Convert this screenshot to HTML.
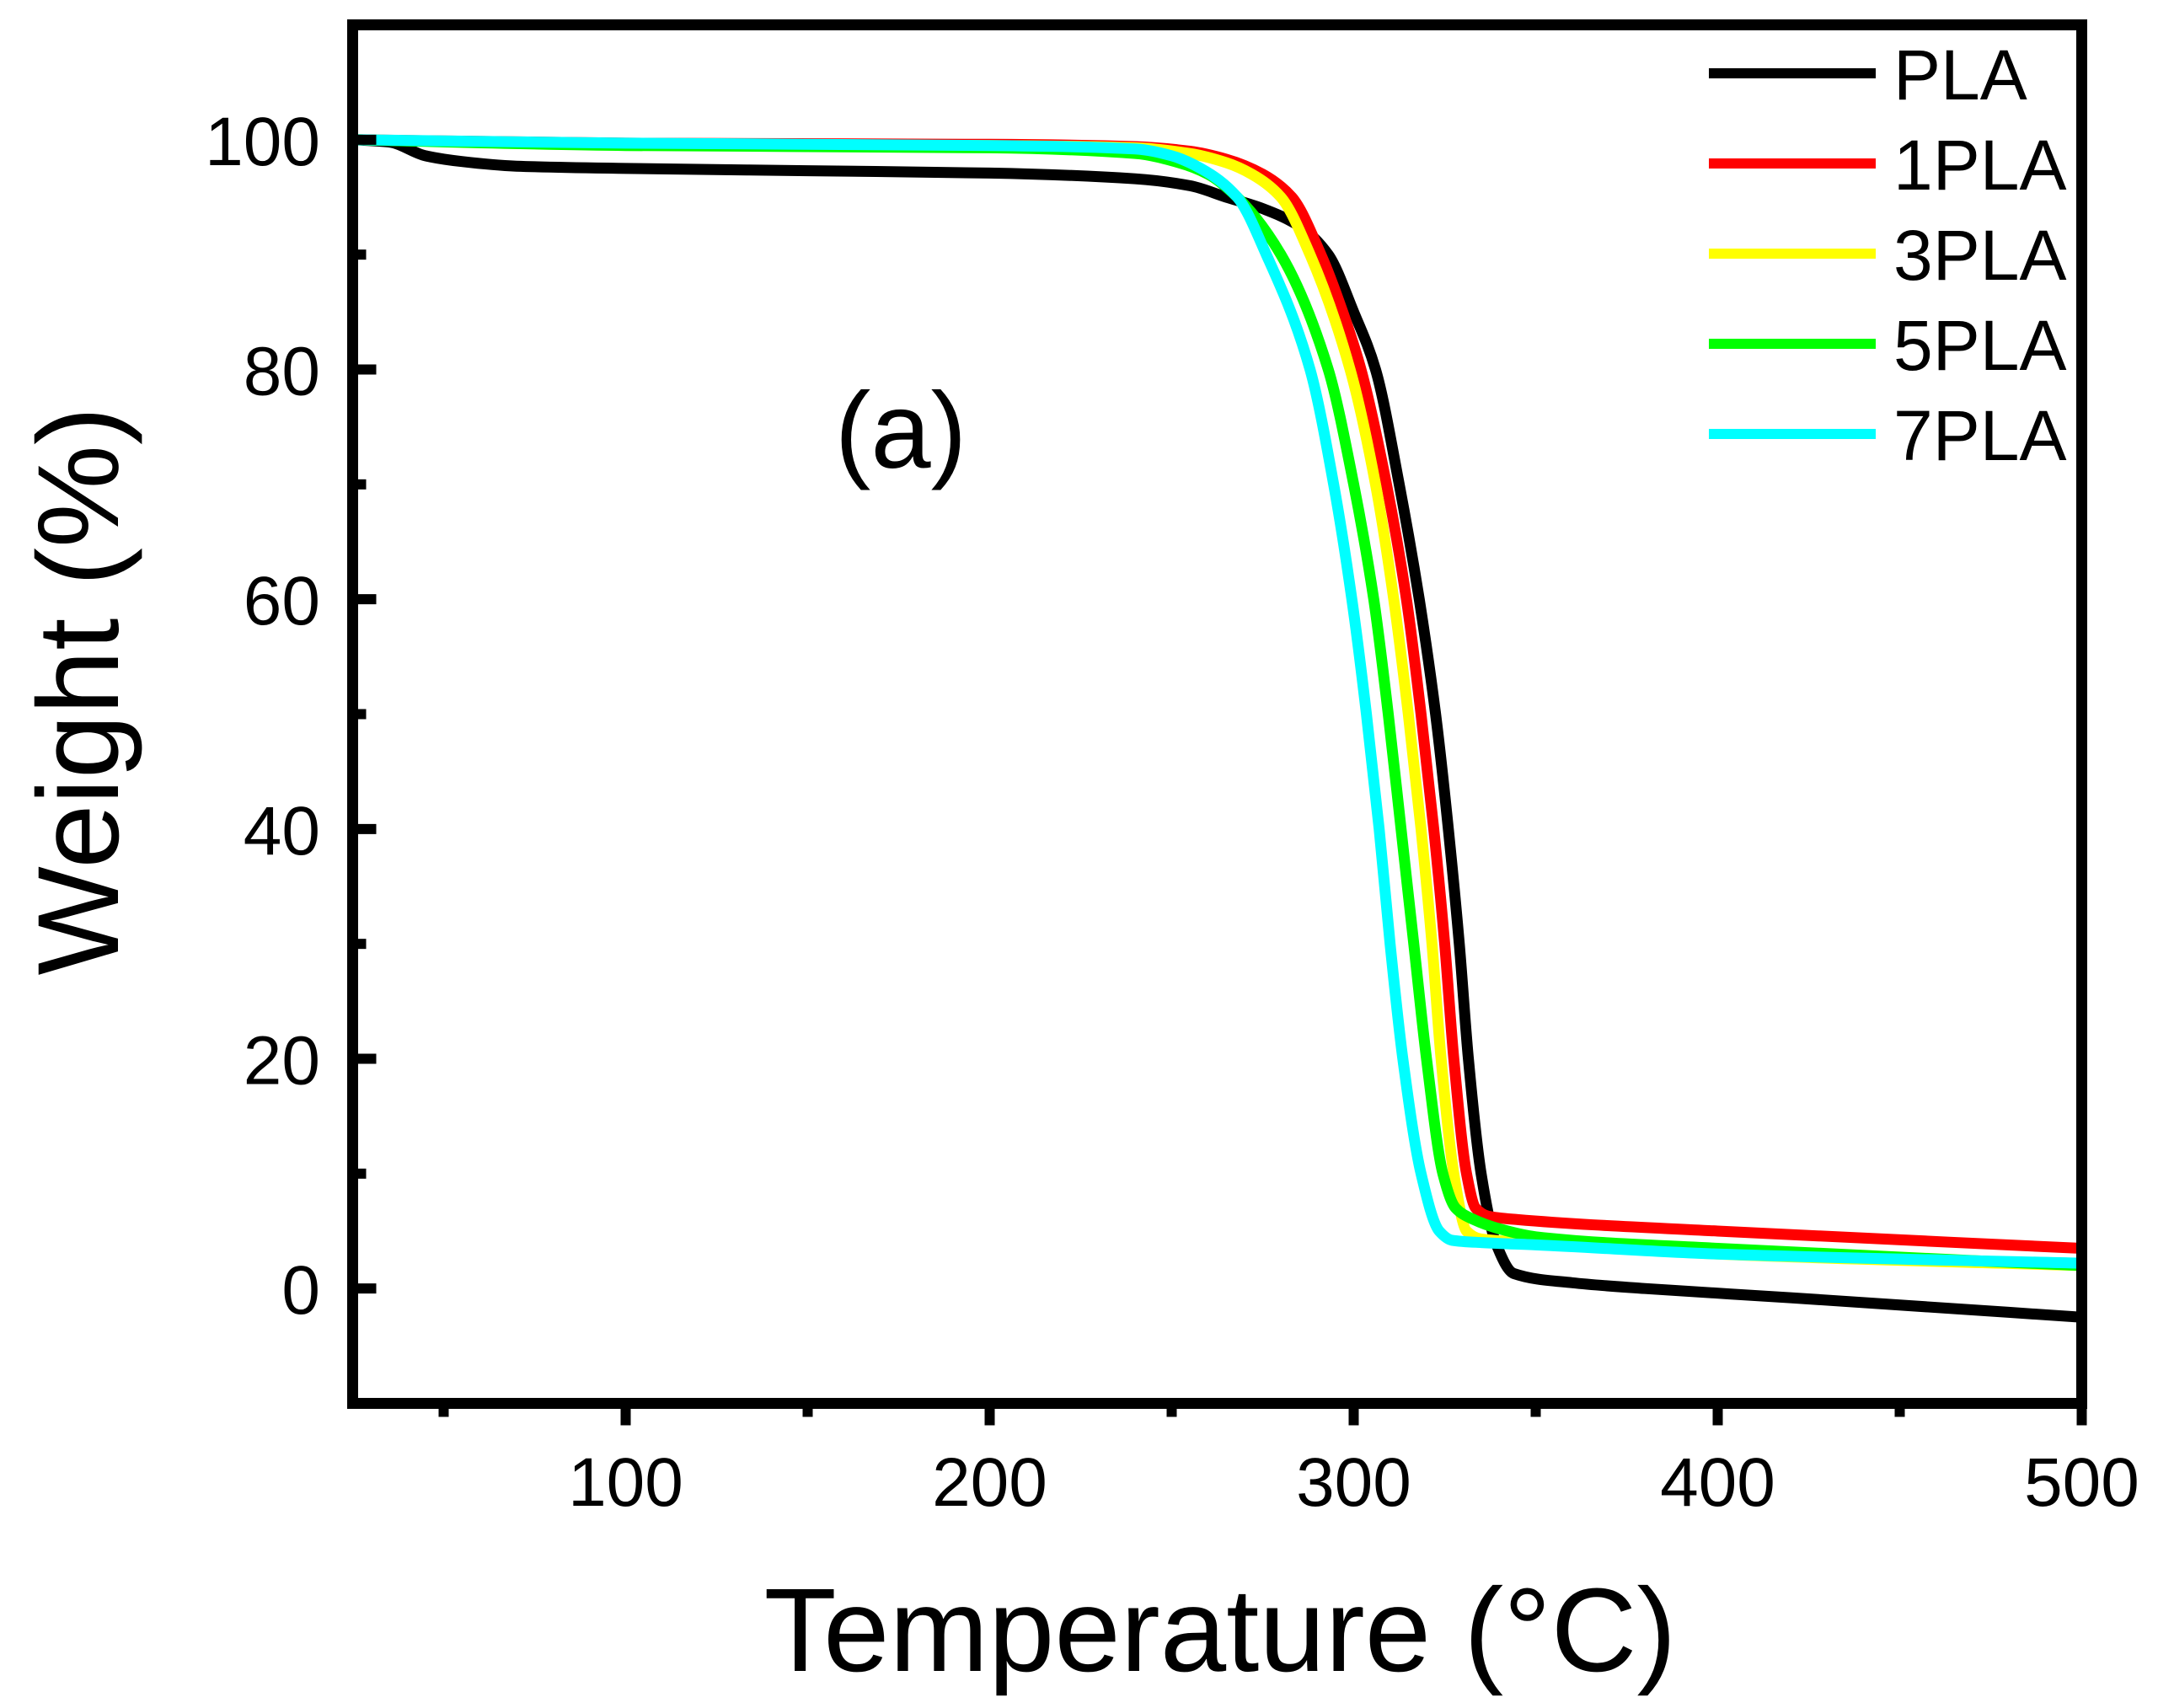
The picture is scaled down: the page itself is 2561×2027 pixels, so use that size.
<!DOCTYPE html>
<html><head><meta charset="utf-8"><style>
html,body{margin:0;padding:0;background:#fff;}
svg{display:block;font-family:"Liberation Sans",Arial,sans-serif;}
</style></head><body>
<svg id="chart" width="2561" height="2027" viewBox="0 0 2561 2027" xmlns="http://www.w3.org/2000/svg">
<g id="series"></g>
<g id="axes"></g>
<text x="1069" y="555" font-size="128" text-anchor="middle">(a)</text>
<text x="1448" y="1983" font-size="141" text-anchor="middle">Temperature (°C)</text>
<text transform="translate(140,820) rotate(-90)" font-size="137" text-anchor="middle">Weight (%)</text>
<g id="legend"></g>
</svg>
<script>
const seriesNames = ["PLA","1PLA","3PLA","5PLA","7PLA"];
const seriesColors = ["#000000","#ff0000","#ffff00","#00ff00","#00ffff"];
const xTicks = [100,200,300,400,500];
const xMinor = [50,150,250,350,450];
const yTicks = [0,20,40,60,80,100];
const yMinor = [-10,10,30,50,70,90,110];
const tPLA = [25,35,45,55,70,100,150,200,240,255,265,275,285,293,300,306,312.5,318,322.5,326,329,331.5,335,339,344,360,380,420,500];
const wPLA = [100,99.8,98.6,98.1,97.7,97.5,97.3,97.1,96.6,96,95,94,92.5,90,85,80,70,60,50,40,30,20,10,4,1.3,0.5,0,-0.8,-2.5];
const t1PLA = [25,100,200,240,255,265,275,283,291,297,302,309,314.5,318.5,322,325,327.5,331,333.5,337,345,400,500];
const w1PLA = [100,99.7,99.6,99.4,99,98.3,97,95,90,85,80,70,60,50,40,30,20,10,7,6.3,6,5,3.5];
const t3PLA = [25,100,200,240,255,265,272,280,288,299,306,311,315,318.5,321.5,324,327.5,331,335,350,400,500];
const w3PLA = [100,99.6,99.5,99.3,98.8,98,97,95,90,80,70,60,50,40,30,20,10,5,4.3,4,3,2];
const t5PLA = [25,100,200,240,252,260,268,280,293,300,305.5,309.5,313,316.5,320,324.5,328,333,340,350,400,500];
const w5PLA = [100,99.5,99.3,98.8,98,97,95,90,80,70,60,50,40,30,20,10,7,6,5.2,4.5,3.5,2];
const t7PLA = [25,100,200,240,250,258,268,276,288,294.5,299.5,303.5,307,310,313.5,318.5,323.5,327,335,350,400,500];
const w7PLA = [100,99.7,99.5,99.2,98.6,97.5,95,90,80,70,60,50,40,30,20,10,5,4.2,4,3.8,3,2.2];
const seriesT = [tPLA,t1PLA,t3PLA,t5PLA,t7PLA];
const seriesW = [wPLA,w1PLA,w3PLA,w5PLA,w7PLA];

const X0=418.5, X1=2470.5, Y0=1665.5, Y1=29.5;
const xMin=25, xMax=500, yMin=-10, yMax=110;
function xs(v){return X0+(v-xMin)/(xMax-xMin)*(X1-X0);}
function ys(v){return Y0-(v-yMin)/(yMax-yMin)*(Y0-Y1);}
const NS="http://www.w3.org/2000/svg";
function mk(tag,attrs,parent){const e=document.createElementNS(NS,tag);for(const k in attrs)e.setAttribute(k,attrs[k]);parent.appendChild(e);return e;}

function monotonePath(X,Y){
  const n=X.length, d=[], m=new Array(n);
  for(let i=0;i<n-1;i++) d.push((Y[i+1]-Y[i])/(X[i+1]-X[i]));
  m[0]=d[0]; m[n-1]=d[n-2];
  for(let i=1;i<n-1;i++){
    if(d[i-1]*d[i]<=0) m[i]=0;
    else { const h0=X[i]-X[i-1], h1=X[i+1]-X[i]; const w1=2*h1+h0, w2=h1+2*h0; m[i]=(w1+w2)/(w1/d[i-1]+w2/d[i]); }
  }
  let p="M"+X[0].toFixed(1)+","+Y[0].toFixed(1);
  for(let i=0;i<n-1;i++){
    const h=(X[i+1]-X[i])/3;
    p+=" C"+(X[i]+h).toFixed(1)+","+(Y[i]+m[i]*h).toFixed(1)+" "+(X[i+1]-h).toFixed(1)+","+(Y[i+1]-m[i+1]*h).toFixed(1)+" "+X[i+1].toFixed(1)+","+Y[i+1].toFixed(1);
  }
  return p;
}

const sg=document.getElementById('series');
const clip=mk('clipPath',{id:'pc'},sg);
mk('rect',{x:X0,y:Y1,width:X1-X0,height:Y0-Y1},clip);
for(let s=0;s<seriesNames.length;s++){
  const T=seriesT[s], W=seriesW[s];
  const d=monotonePath(T.map(xs),W.map(ys));
  const p=mk('path',{d:d,fill:'none',stroke:seriesColors[s],'stroke-width':13,'stroke-linejoin':'round','clip-path':'url(#pc)'},sg);
  
  
}

const ag=document.getElementById('axes');
const frame=mk('rect',{x:X0,y:Y1,width:X1-X0,height:Y0-Y1,fill:'none',stroke:'#000','stroke-width':13},ag);


xTicks.forEach(v=>{
  const x=xs(v);
  const t=mk('line',{x1:x,y1:Y0,x2:x,y2:Y0+26,stroke:'#000','stroke-width':12},ag);
  
  
  const l=mk('text',{x:x,y:1787,'font-size':82,'text-anchor':'middle'},ag);
  l.textContent=v;
  
  
});
xMinor.forEach(v=>{
  const x=xs(v);
  const t=mk('line',{x1:x,y1:Y0,x2:x,y2:Y0+16,stroke:'#000','stroke-width':12},ag);
  
  
});
yTicks.forEach(v=>{
  const y=ys(v);
  const t=mk('line',{x1:X0,y1:y,x2:X0+28,y2:y,stroke:'#000','stroke-width':12},ag);
  
  
  const l=mk('text',{x:380,y:y+30,'font-size':82,'text-anchor':'end'},ag);
  l.textContent=v;
  
  
});
yMinor.forEach(v=>{
  const y=ys(v);
  const t=mk('line',{x1:X0,y1:y,x2:X0+16,y2:y,stroke:'#000','stroke-width':12},ag);
  
  
});

const lg=document.getElementById('legend');
seriesNames.forEach((n,i)=>{
  const y=87+i*107;
  const ln=mk('line',{x1:2028,y1:y,x2:2226,y2:y,stroke:seriesColors[i],'stroke-width':12},lg);
  
  
  const t=mk('text',{x:2247,y:y+31,'font-size':84},lg);
  t.textContent=n;
  
  
});
</script>
</body></html>
